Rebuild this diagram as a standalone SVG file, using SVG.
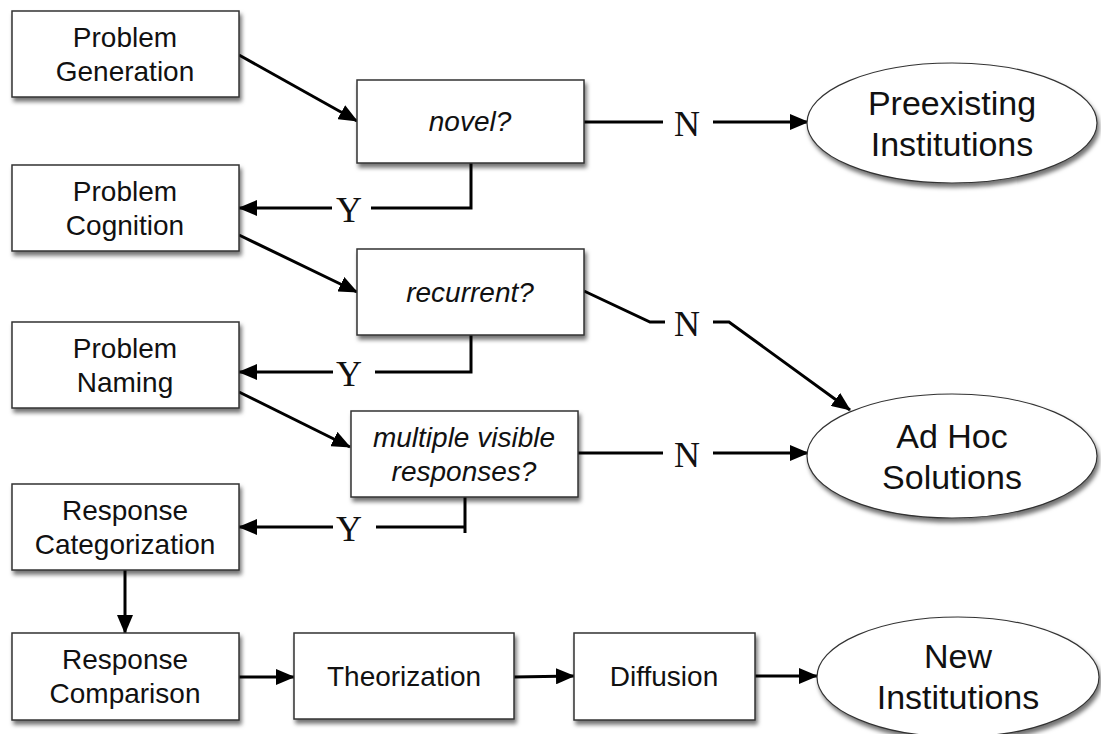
<svg xmlns="http://www.w3.org/2000/svg" width="1101" height="734" viewBox="0 0 1101 734">
<style>
.box{fill:#fff;stroke:#333;stroke-width:1.5;filter:url(#sh)}
.ell{fill:#fff;stroke:#333;stroke-width:1.2;filter:url(#sh)}
.t{font-family:"Liberation Sans",Arial,sans-serif;font-size:28px;fill:#111;text-anchor:middle}
.i{font-style:italic}
.e{font-family:"Liberation Sans",Arial,sans-serif;font-size:34px;fill:#111;text-anchor:middle}
.yn{font-family:"Liberation Serif","Times New Roman",serif;font-size:36px;fill:#111;text-anchor:middle}
.c{fill:none;stroke:#000;stroke-width:3}
.a{marker-end:url(#ah)}
</style>
<defs>
<filter id="sh" x="-10%" y="-10%" width="130%" height="140%">
<feDropShadow dx="2" dy="4" stdDeviation="2.2" flood-color="#000" flood-opacity="0.55"/>
</filter>
<marker id="ah" markerUnits="userSpaceOnUse" markerWidth="20" markerHeight="16" refX="18" refY="8" orient="auto">
<path d="M0,0 L19,8 L0,16 z" fill="#000"/>
</marker>
</defs>
<rect width="1101" height="734" fill="#fff"/>

<g id="connectors">
<path class="c a" d="M239,55 L357,121"/>
<path class="c" d="M584,122 L663,122"/>
<path class="c a" d="M713,122 L808,122"/>
<path class="c" d="M471,163 L471,208 L371,208"/>
<path class="c a" d="M332,208 L239,208"/>
<path class="c a" d="M239,235 L357,292"/>
<path class="c" d="M584,291 L650,322 L665,322"/>
<path class="c a" d="M713,322 L729,322 L850,410"/>
<path class="c" d="M471,335 L471,372 L375,372"/>
<path class="c a" d="M333,372 L239,372"/>
<path class="c a" d="M239,392 L350,447"/>
<path class="c" d="M578,453 L663,453"/>
<path class="c a" d="M713,453 L808,453"/>
<path class="c" d="M465,497 L465,533 M465,527 L376,527"/>
<path class="c a" d="M333,527 L239,527"/>
<path class="c a" d="M125,570 L125,633"/>
<path class="c a" d="M239,677 L294,677"/>
<path class="c a" d="M514,677 L574,676"/>
<path class="c a" d="M755,676 L817,676"/>
<text class="yn" x="687" y="136">N</text>
<text class="yn" x="349" y="222">Y</text>
<text class="yn" x="687" y="336">N</text>
<text class="yn" x="349" y="386">Y</text>
<text class="yn" x="687" y="467">N</text>
<text class="yn" x="349" y="541">Y</text>
</g>

<g id="problem-generation">
<rect class="box" x="12" y="11" width="227" height="86"/>
<text class="t" x="125" y="47">Problem</text>
<text class="t" x="125" y="81">Generation</text>
</g>
<g id="novel">
<rect class="box" x="357" y="80" width="227" height="83"/>
<text class="t i" x="470" y="131">novel?</text>
</g>
<g id="preexisting-institutions">
<ellipse class="ell" cx="952" cy="123" rx="145" ry="60"/>
<text class="e" x="952" y="115">Preexisting</text>
<text class="e" x="952" y="156">Institutions</text>
</g>
<g id="problem-cognition">
<rect class="box" x="12" y="165" width="227" height="86"/>
<text class="t" x="125" y="201">Problem</text>
<text class="t" x="125" y="235">Cognition</text>
</g>
<g id="recurrent">
<rect class="box" x="357" y="249" width="227" height="86"/>
<text class="t i" x="470" y="302">recurrent?</text>
</g>
<g id="problem-naming">
<rect class="box" x="12" y="322" width="227" height="86"/>
<text class="t" x="125" y="358">Problem</text>
<text class="t" x="125" y="392">Naming</text>
</g>
<g id="multiple-visible-responses">
<rect class="box" x="351" y="411" width="227" height="86"/>
<text class="t i" x="464" y="447">multiple visible</text>
<text class="t i" x="464" y="481">responses?</text>
</g>
<g id="ad-hoc-solutions">
<ellipse class="ell" cx="952" cy="456" rx="145" ry="62"/>
<text class="e" x="952" y="448">Ad Hoc</text>
<text class="e" x="952" y="489">Solutions</text>
</g>
<g id="response-categorization">
<rect class="box" x="12" y="484" width="227" height="86"/>
<text class="t" x="125" y="520">Response</text>
<text class="t" x="125" y="554">Categorization</text>
</g>
<g id="response-comparison">
<rect class="box" x="12" y="633" width="227" height="87"/>
<text class="t" x="125" y="669">Response</text>
<text class="t" x="125" y="703">Comparison</text>
</g>
<g id="theorization">
<rect class="box" x="294" y="633" width="220" height="86"/>
<text class="t" x="404" y="686">Theorization</text>
</g>
<g id="diffusion">
<rect class="box" x="574" y="633" width="181" height="87"/>
<text class="t" x="664" y="686">Diffusion</text>
</g>
<g id="new-institutions">
<ellipse class="ell" cx="958" cy="677" rx="141" ry="60"/>
<text class="e" x="958" y="668">New</text>
<text class="e" x="958" y="709">Institutions</text>
</g>
</svg>
